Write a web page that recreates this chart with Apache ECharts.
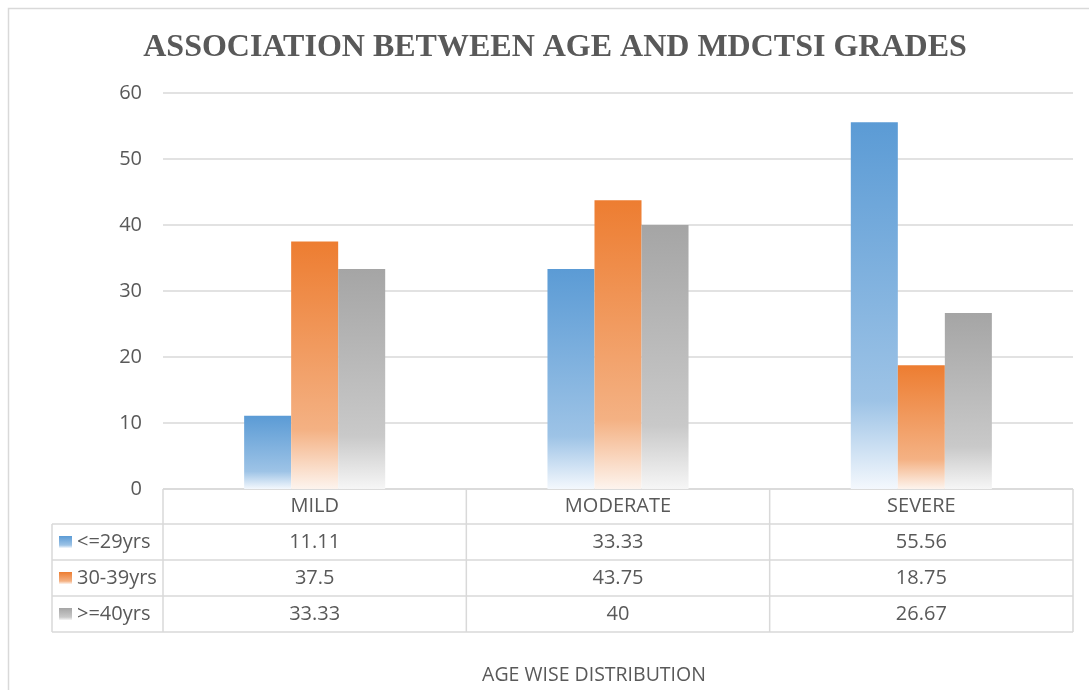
<!DOCTYPE html>
<html>
<head>
<meta charset="utf-8">
<title>Association between age and MDCTSI grades</title>
<script src="https://cdn.jsdelivr.net/npm/echarts@6/dist/echarts.min.js"></script>
<style>
  html, body { margin: 0; padding: 0; background: #ffffff; }
  #chart { width: 1089px; height: 690px; }
</style>
</head>
<body>
<div id="chart"></div>
<script>
// Severity grades on the category axis
const categories = ['MILD', 'MODERATE', 'SEVERE'];
// Age groups (one bar series each)
const seriesNames = ['<=29yrs', '30-39yrs', '>=40yrs'];
// Percentages per grade for each age group
const ageUpTo29 = [11.11, 33.33, 55.56];
const age30to39 = [37.5, 43.75, 18.75];
const age40plus = [33.33, 40, 26.67];
// Value axis ticks
const yMin = 0;
const yMax = 60;
const yStep = 10;

const seriesValues = [ageUpTo29, age30to39, age40plus];

// Vertical fade: full colour at the top, lighter tint, then almost white at the base
const palettes = [
  ['#5b9bd5', '#9dc3e6', '#f4f8fd'],
  ['#ed7d31', '#f4b183', '#fdf4ee'],
  ['#a5a5a5', '#c9c9c9', '#f6f6f6']
];
function fade(p) {
  return new echarts.graphic.LinearGradient(0, 0, 0, 1, [
    { offset: 0, color: p[0] },
    { offset: 0.76, color: p[1] },
    { offset: 1, color: p[2] }
  ]);
}

const textColor = '#595959';
const lineColor = '#d9d9d9';
const bodyFont = '"Open Sans", "Liberation Sans", sans-serif';

const chart = echarts.init(document.getElementById('chart'), null, { renderer: 'canvas' });

chart.setOption({
  animation: false,
  backgroundColor: '#ffffff',
  title: {
    text: 'ASSOCIATION BETWEEN AGE AND MDCTSI GRADES',
    left: 550,
    top: 27,
    textAlign: 'center',
    textStyle: {
      fontFamily: '"Liberation Serif", "DejaVu Serif", serif',
      fontWeight: 'bold',
      fontSize: 32,
      color: textColor
    }
  },
  grid: { left: 163, right: 16, top: 93, bottom: 201 },
  xAxis: {
    type: 'category',
    data: categories,
    axisLine: { show: false },
    axisTick: { show: false },
    axisLabel: {
      margin: 17,
      verticalAlign: 'middle',
      fontFamily: bodyFont,
      fontSize: 20,
      color: textColor
    }
  },
  yAxis: {
    type: 'value',
    min: yMin,
    max: yMax,
    interval: yStep,
    axisLine: { show: false },
    axisTick: { show: false },
    axisLabel: {
      margin: 21,
      fontFamily: bodyFont,
      fontSize: 20,
      color: textColor
    },
    splitLine: { lineStyle: { color: lineColor, width: 1.5 } }
  },
  series: seriesNames.map((name, i) => ({
    name: name,
    type: 'bar',
    data: seriesValues[i],
    barWidth: '15.5%',
    barGap: '0%',
    itemStyle: { color: fade(palettes[i]) }
  }))
});

// Data table under the plot, laid out from the category axis
const c0 = chart.convertToPixel({ xAxisIndex: 0 }, 0);
const c1 = chart.convertToPixel({ xAxisIndex: 0 }, 1);
const band = c1 - c0;
const tableLeft = c0 - band / 2;
const tableRight = tableLeft + band * categories.length;
const baseY = chart.convertToPixel({ yAxisIndex: 0 }, 0);
const headerH = 35;
const rowH = 36;
const legendLeft = 52;
const tableBottom = baseY + headerH + rowH * seriesNames.length;

const elements = [];
function hLine(x1, x2, y) {
  elements.push({ type: 'line', silent: true,
    shape: { x1: x1, y1: y, x2: x2, y2: y },
    style: { stroke: lineColor, lineWidth: 1.5 } });
}
function vLine(x, y1, y2) {
  elements.push({ type: 'line', silent: true,
    shape: { x1: x, y1: y1, x2: x, y2: y2 },
    style: { stroke: lineColor, lineWidth: 1.5 } });
}

// Chart frame
elements.push({ type: 'rect', silent: true,
  shape: { x: 8.5, y: 8.5, width: 1200, height: 800 },
  style: { fill: null, stroke: lineColor, lineWidth: 1.5 } });

hLine(tableLeft, tableRight, baseY);
for (let r = 0; r <= seriesNames.length; r++) {
  hLine(legendLeft, tableRight, baseY + headerH + rowH * r);
}
vLine(legendLeft, baseY + headerH, tableBottom);
for (let c = 0; c <= categories.length; c++) {
  vLine(tableLeft + band * c, baseY, tableBottom);
}

seriesNames.forEach((name, r) => {
  const cy = baseY + headerH + rowH * r + rowH / 2;
  elements.push({ type: 'rect', silent: true,
    shape: { x: 59, y: cy - 6, width: 13, height: 12 },
    style: { fill: fade(palettes[r]) } });
  elements.push({ type: 'text', silent: true,
    x: 77, y: cy,
    style: { text: name, fontFamily: bodyFont, fontSize: 20, fill: textColor,
      align: 'left', verticalAlign: 'middle' } });
  seriesValues[r].forEach((v, c) => {
    elements.push({ type: 'text', silent: true,
      x: chart.convertToPixel({ xAxisIndex: 0 }, c), y: cy,
      style: { text: String(v), fontFamily: bodyFont, fontSize: 20, fill: textColor,
        align: 'center', verticalAlign: 'middle' } });
  });
});

// Axis title under the table
elements.push({ type: 'text', silent: true,
  x: 594, y: 675,
  style: { text: 'AGE WISE DISTRIBUTION', fontFamily: bodyFont, fontSize: 19.5,
    fill: textColor, align: 'center', verticalAlign: 'middle' } });

chart.setOption({ graphic: { elements: elements } });
</script>
</body>
</html>
